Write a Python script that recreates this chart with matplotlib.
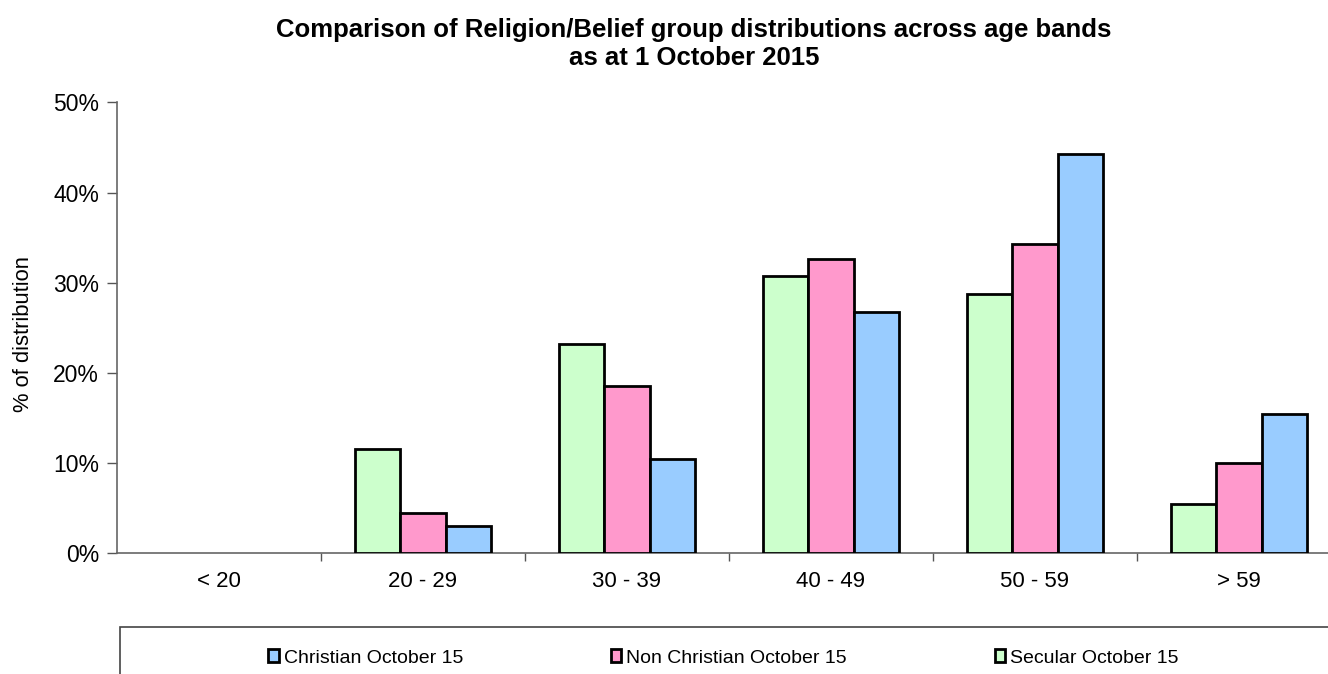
import matplotlib
matplotlib.use("Agg")
import matplotlib.pyplot as plt
from matplotlib.patches import Rectangle
from matplotlib.ticker import FuncFormatter, MultipleLocator
import numpy as np

plt.rcParams['font.family'] = ['Liberation Sans', 'DejaVu Sans']

# Age bands and share of each group (%) falling in each band
age_bands = ["< 20", "20 - 29", "30 - 39", "40 - 49", "50 - 59", "> 59"]
secular = [0.0, 11.6, 23.2, 30.7, 28.7, 5.5]
non_christian = [0.0, 4.5, 18.5, 32.6, 34.3, 10.0]
christian = [0.0, 3.0, 10.5, 26.7, 44.3, 15.4]

series_labels = ["Secular October 15", "Non Christian October 15", "Christian October 15"]
colors = ["#CCFFCC", "#FF99CC", "#99CCFF"]

W, H = 1328, 674
fig = plt.figure(figsize=(W / 100, H / 100), dpi=100)

# Plot area; the right part runs past the figure edge
left_px, right_px, top_px, bottom_px = 117, 1341, 102.3, 553.3
ax = fig.add_axes([left_px / W, 1 - bottom_px / H,
                   (right_px - left_px) / W, (bottom_px - top_px) / H])

x = np.arange(len(age_bands))
bw = 0.222
bars = []
for i, (vals, lab, col) in enumerate(zip([secular, non_christian, christian], series_labels, colors)):
    b = ax.bar(x + (i - 1) * bw, vals, width=bw, color=col, edgecolor="black",
               linewidth=2.0, label=lab, zorder=3)
    # empty bands show no outline
    for rect, v in zip(b, vals):
        if v == 0:
            rect.set_linewidth(0)
    bars.append(b)

ax.set_xlim(-0.5, len(age_bands) - 0.5)
ax.set_ylim(0, 50)
ax.yaxis.set_major_locator(MultipleLocator(10))
ax.yaxis.set_major_formatter(FuncFormatter(lambda v, p: f"{v:.0f}%"))

# Category labels centred, tick marks at band boundaries
ax.set_xticks(x)
ax.set_xticklabels(age_bands)
ax.set_xticks(np.arange(0.5, len(age_bands) - 0.5, 1), minor=True)
ax.tick_params(axis="x", which="major", length=0, pad=13, labelsize=16)
ax.tick_params(axis="x", which="minor", length=6, width=1, color="#555555", direction="out")
ax.tick_params(axis="y", which="major", length=7, width=1, color="#555555", labelsize=16.5, pad=6)

for s in ["top", "right"]:
    ax.spines[s].set_visible(False)
for s in ["left", "bottom"]:
    ax.spines[s].set_color("#666666")
    ax.spines[s].set_linewidth(1.2)

fig.text(24 / W, 1 - 334 / H, "% of distribution", rotation=90, ha="center", va="center", fontsize=15.8)

fig.text(694 / W, 1 - 30 / H, "Comparison of Religion/Belief group distributions across age bands",
         ha="center", va="center", fontsize=18.5, fontweight="bold")
fig.text(694 / W, 1 - 58 / H, "as at 1 October 2015",
         ha="center", va="center", fontsize=18.5, fontweight="bold")

# Legend frame, running off the bottom and right edges
fig.patches.append(Rectangle((120 / W, -0.05), 1.0, (674 - 627) / H + 0.05,
                             transform=fig.transFigure, fill=False,
                             edgecolor="#444444", linewidth=1.2))

# Legend keys taken from an outlined (non-empty) bar of each series
handles = [bars[2][1], bars[1][1], bars[0][1]]
labels = [series_labels[2], series_labels[1], series_labels[0]]
fig.legend(handles, labels, ncol=3, frameon=False, fontsize=14,
           loc="center left", bbox_to_anchor=(268 / W, 1 - 658 / H),
           handlelength=0.55, handleheight=0.6, handletextpad=0.25,
           columnspacing=7.6, borderaxespad=0, borderpad=0)

fig.savefig("out.png", dpi=100)
